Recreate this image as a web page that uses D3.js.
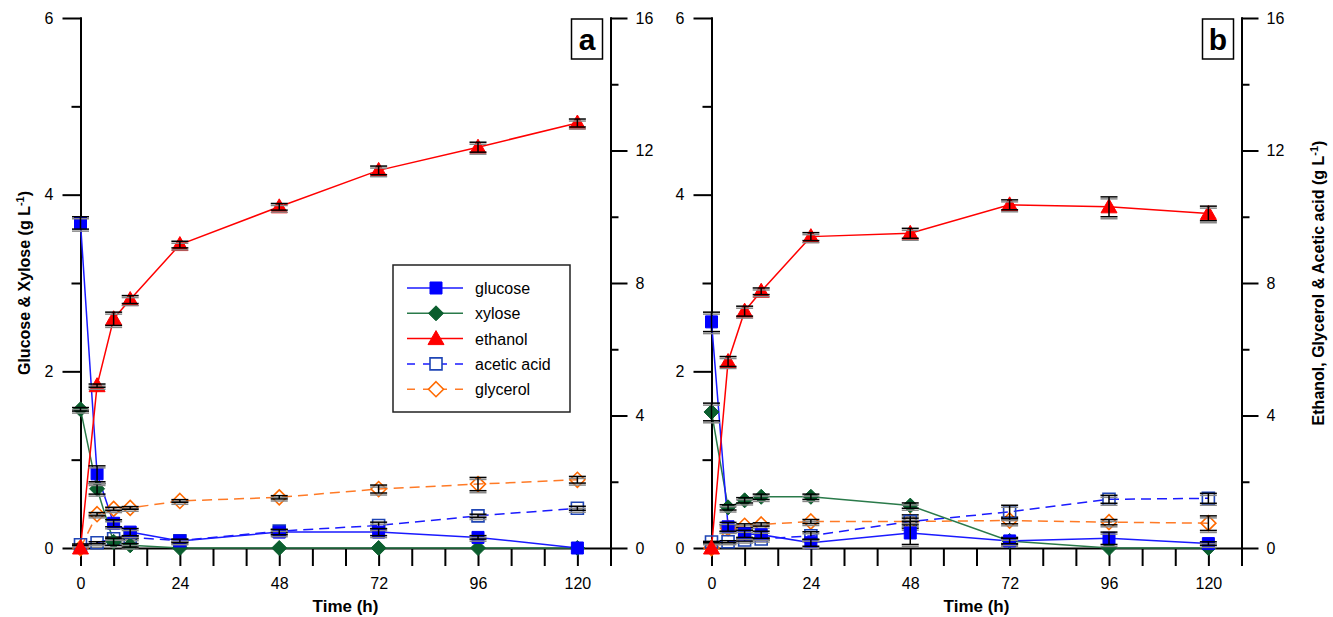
<!DOCTYPE html>
<html><head><meta charset="utf-8">
<script src="https://cdn.jsdelivr.net/npm/d3@7"></script>
<style>
body{margin:0;background:#fff;}
svg{display:block;font-family:Arial,"Liberation Sans",sans-serif;}
</style></head>
<body>
<svg id="chart" width="1333" height="617"></svg>
<script>
// ---------------- data ----------------
const times = [0, 4, 8, 12, 24, 48, 72, 96, 120];
const xTicks = [0, 8, 16, 24, 32, 40, 48, 56, 64, 72, 80, 88, 96, 104, 112, 120, 128];
const xLabels = [0, 24, 48, 72, 96, 120];
const leftMajor = [0, 2, 4, 6], leftMinor = [1, 3, 5];
const rightMajor = [0, 4, 8, 12, 16], rightMinor = [2, 6, 10, 14];
const seriesNames = ["glucose", "xylose", "ethanol", "acetic acid", "glycerol"];
const panelLabels = ["a", "b"];

// panel a
const glucoseA = [3.68, 0.84, 0.28, 0.18, 0.08, 0.18, 0.18, 0.12, 0.0];
const glucoseAErr = [0.07, 0.09, 0.04, 0.04, 0.02, 0.03, 0.04, 0.02, 0.0];
const xyloseA = [1.57, 0.67, 0.07, 0.03, 0.0, 0.0, 0.0, 0.0, 0.0];
const xyloseAErr = [0.02, 0.06, 0.04, 0.02, 0.0, 0.0, 0.0, 0.0, 0.0];
const ethanolA = [0.0, 4.9, 6.92, 7.5, 9.16, 10.3, 11.4, 12.1, 12.83];
const ethanolAErr = [0.0, 0.05, 0.2, 0.12, 0.1, 0.1, 0.13, 0.15, 0.12];
const aceticA = [0.1, 0.16, 0.28, 0.32, 0.22, 0.51, 0.68, 0.97, 1.2];
const aceticAErr = [0.02, 0.03, 0.05, 0.04, 0.04, 0.05, 0.1, 0.05, 0.06];
const glycerolA = [0.0, 1.02, 1.18, 1.21, 1.42, 1.53, 1.78, 1.93, 2.06];
const glycerolAErr = [0.0, 0.05, 0.05, 0.04, 0.04, 0.05, 0.12, 0.2, 0.1];

// panel b
const glucoseB = [2.56, 0.24, 0.16, 0.15, 0.06, 0.17, 0.08, 0.11, 0.05];
const glucoseBErr = [0.11, 0.05, 0.04, 0.04, 0.04, 0.13, 0.03, 0.07, 0.02];
const xyloseB = [1.54, 0.46, 0.54, 0.58, 0.58, 0.48, 0.08, 0.0, 0.0];
const xyloseBErr = [0.1, 0.03, 0.03, 0.03, 0.03, 0.03, 0.04, 0.0, 0.0];
const ethanolB = [0.0, 5.63, 7.15, 7.75, 9.4, 9.5, 10.36, 10.3, 10.1];
const ethanolBErr = [0.0, 0.15, 0.15, 0.1, 0.12, 0.15, 0.15, 0.3, 0.22];
const aceticB = [0.18, 0.19, 0.24, 0.27, 0.37, 0.8, 1.09, 1.47, 1.5];
const aceticBErr = [0.02, 0.03, 0.03, 0.03, 0.12, 0.1, 0.2, 0.12, 0.15];
const glycerolB = [0.0, 0.6, 0.67, 0.71, 0.8, 0.8, 0.83, 0.78, 0.75];
const glycerolBErr = [0.0, 0.1, 0.06, 0.05, 0.06, 0.2, 0.1, 0.08, 0.22];

// ---------------- styles ----------------
const styles = {
  "glucose":     {line:"#1a1aff", stroke:"#0000ff", fill:"#0000ff", shape:"square", dash:null, axis:"L"},
  "xylose":      {line:"#2a7a4a", stroke:"#0b5e2e", fill:"#0b5e2e", shape:"diamond", dash:null, axis:"L"},
  "ethanol":     {line:"#ff0000", stroke:"#ff0000", fill:"#ff0000", shape:"triangle", dash:null, axis:"R"},
  "acetic acid": {line:"#1a1aff", stroke:"#1f45b5", fill:"none", shape:"square", dash:"10,6", axis:"R"},
  "glycerol":    {line:"#ff7a26", stroke:"#ff6a00", fill:"none", shape:"diamond", dash:"10,6", axis:"R"}
};

function shapePath(shape) {
  if (shape === "square") return "M-6,-6H6V6H-6Z";
  if (shape === "diamond") return "M0,-7.5L7.5,0L0,7.5L-7.5,0Z";
  return "M0,-8L8,6H-8Z";
}

const panels = [
  {label: panelLabels[0], x0: 80.5, data: {"glucose":[glucoseA,glucoseAErr],"xylose":[xyloseA,xyloseAErr],"ethanol":[ethanolA,ethanolAErr],"acetic acid":[aceticA,aceticAErr],"glycerol":[glycerolA,glycerolAErr]}, leftTitle:"Glucose & Xylose (g L", rightTitle:null, legend:true},
  {label: panelLabels[1], x0: 711.5, data: {"glucose":[glucoseB,glucoseBErr],"xylose":[xyloseB,xyloseBErr],"ethanol":[ethanolB,ethanolBErr],"acetic acid":[aceticB,aceticBErr],"glycerol":[glycerolB,glycerolBErr]}, leftTitle:null, rightTitle:"Ethanol, Glycerol & Acetic acid (g L", legend:false}
];

const svg = d3.select("#chart");
const plotTop = 18, plotBottom = 548, W = 530;
const drawOrder = ["glycerol", "acetic acid", "xylose", "glucose", "ethanol"];

panels.forEach(p => {
  const x = d3.scaleLinear().domain([0, 128]).range([p.x0, p.x0 + W]);
  const yL = d3.scaleLinear().domain([0, 6]).range([plotBottom, plotTop]);
  const yR = d3.scaleLinear().domain([0, 16]).range([plotBottom, plotTop]);
  const g = svg.append("g");

  // axes
  const styleAxis = sel => {
    sel.selectAll("path.domain").attr("stroke", "#000").attr("stroke-width", 2);
    sel.selectAll(".tick line").attr("stroke", "#000").attr("stroke-width", 2);
    sel.selectAll(".tick text").attr("font-size", 16).attr("fill", "#000").attr("font-family", "Arial, 'Liberation Sans', sans-serif");
  };
  const fmt = d3.format("d");
  g.append("g").attr("transform", `translate(0,${plotBottom})`)
    .call(d3.axisBottom(x).tickValues(xTicks).tickSize(18).tickSizeOuter(0).tickPadding(12)
      .tickFormat(d => xLabels.includes(d) ? fmt(d) : ""))
    .call(styleAxis);
  g.append("g").attr("transform", `translate(${p.x0},0)`)
    .call(d3.axisLeft(yL).tickValues(leftMinor).tickSize(9).tickSizeOuter(0).tickFormat(""))
    .call(styleAxis);
  g.append("g").attr("transform", `translate(${p.x0},0)`)
    .call(d3.axisLeft(yL).tickValues(leftMajor).tickSize(18).tickSizeOuter(0).tickPadding(9).tickFormat(fmt))
    .call(styleAxis);
  g.append("g").attr("transform", `translate(${p.x0 + W},0)`)
    .call(d3.axisRight(yR).tickValues(rightMinor).tickSize(8).tickSizeOuter(0).tickFormat(""))
    .call(styleAxis);
  g.append("g").attr("transform", `translate(${p.x0 + W},0)`)
    .call(d3.axisRight(yR).tickValues(rightMajor).tickSize(17).tickSizeOuter(0).tickPadding(8).tickFormat(fmt))
    .call(styleAxis);
  g.selectAll(".domain").attr("stroke-linecap", "square");

  // titles
  const cx = p.x0 + W / 2;
  g.append("text").attr("x", cx).attr("y", 612).attr("text-anchor", "middle")
    .attr("font-size", 17).attr("font-weight", "bold").text("Time (h)");
  if (p.leftTitle) {
    const t = g.append("text").attr("transform", `translate(${p.x0 - 51},${(plotTop + plotBottom) / 2}) rotate(-90)`)
      .attr("text-anchor", "middle").attr("font-size", 16).attr("font-weight", "bold");
    t.append("tspan").text(p.leftTitle);
    t.append("tspan").attr("dy", -6).attr("font-size", 11).text("-1");
    t.append("tspan").attr("dy", 6).text(")");
  }
  if (p.rightTitle) {
    const t = g.append("text").attr("transform", `translate(${p.x0 + W + 82},${(plotTop + plotBottom) / 2}) rotate(-90)`)
      .attr("text-anchor", "middle").attr("font-size", 16).attr("font-weight", "bold");
    t.append("tspan").text(p.rightTitle);
    t.append("tspan").attr("dy", -6).attr("font-size", 11).text("-1");
    t.append("tspan").attr("dy", 6).text(")");
  }

  // panel label box
  const bx = p.x0 + W - 39;
  g.append("rect").attr("x", bx).attr("y", 19).attr("width", 31).attr("height", 40)
    .attr("fill", "#fff").attr("stroke", "#000").attr("stroke-width", 1.5);
  g.append("text").attr("x", bx + 15.5).attr("y", 50).attr("text-anchor", "middle")
    .attr("font-size", 30).attr("font-weight", "bold").text(p.label);

  // series lines
  drawOrder.forEach(name => {
    const st = styles[name];
    const ys = st.axis === "L" ? yL : yR;
    const vals = p.data[name][0];
    const line = d3.line().x((d, i) => x(times[i])).y(d => ys(d));
    g.append("path").datum(vals).attr("d", line).attr("fill", "none")
      .attr("stroke", st.line).attr("stroke-width", 1.5)
      .attr("stroke-dasharray", st.dash);
  });
  // markers and error bars
  drawOrder.forEach(name => {
    const st = styles[name];
    const ys = st.axis === "L" ? yL : yR;
    const [vals, errs] = p.data[name];
    vals.forEach((v, i) => {
      g.append("path").attr("d", shapePath(st.shape))
        .attr("transform", `translate(${x(times[i])},${ys(v)})`)
        .attr("fill", st.fill === "none" ? "none" : st.fill)
        .attr("stroke", st.stroke).attr("stroke-width", st.fill === "none" ? 1.6 : 1);
    });
    vals.forEach((v, i) => {
      const e = errs[i];
      if (!e) return;
      const xx = x(times[i]), y1 = ys(v + e), y2 = ys(v - e);
      const eg = g.append("g").attr("stroke-width", 1.5);
      eg.append("line").attr("x1", xx - 8.5).attr("x2", xx + 8.5).attr("y1", y1 + 2).attr("y2", y1 + 2).attr("stroke", "#888");
      eg.append("line").attr("x1", xx - 8.5).attr("x2", xx + 8.5).attr("y1", y2 + 2).attr("y2", y2 + 2).attr("stroke", "#888");
      eg.append("line").attr("x1", xx).attr("x2", xx).attr("y1", y1).attr("y2", y2).attr("stroke", "#000");
      eg.append("line").attr("x1", xx - 8.5).attr("x2", xx + 8.5).attr("y1", y1).attr("y2", y1).attr("stroke", "#000");
      eg.append("line").attr("x1", xx - 8.5).attr("x2", xx + 8.5).attr("y1", y2).attr("y2", y2).attr("stroke", "#000");
    });
  });

  // legend
  if (p.legend) {
    const lg = g.append("g");
    lg.append("rect").attr("x", 393).attr("y", 265).attr("width", 177).attr("height", 147)
      .attr("fill", "#fff").attr("stroke", "#222").attr("stroke-width", 1.5);
    seriesNames.forEach((name, i) => {
      const st = styles[name];
      const yy = 288 + i * 25.3;
      lg.append("line").attr("x1", 407).attr("x2", 463).attr("y1", yy).attr("y2", yy)
        .attr("stroke", st.line).attr("stroke-width", 1.5)
        .attr("stroke-dasharray", st.dash ? "8,8" : null);
      lg.append("path").attr("d", shapePath(st.shape)).attr("transform", `translate(436,${yy})`)
        .attr("fill", st.fill === "none" ? "#fff" : st.fill).attr("stroke", st.stroke)
        .attr("stroke-width", st.fill === "none" ? 1.6 : 1);
      lg.append("text").attr("x", 475).attr("y", yy + 6).attr("font-size", 16).text(name);
    });
  }
});
</script>
</body></html>
